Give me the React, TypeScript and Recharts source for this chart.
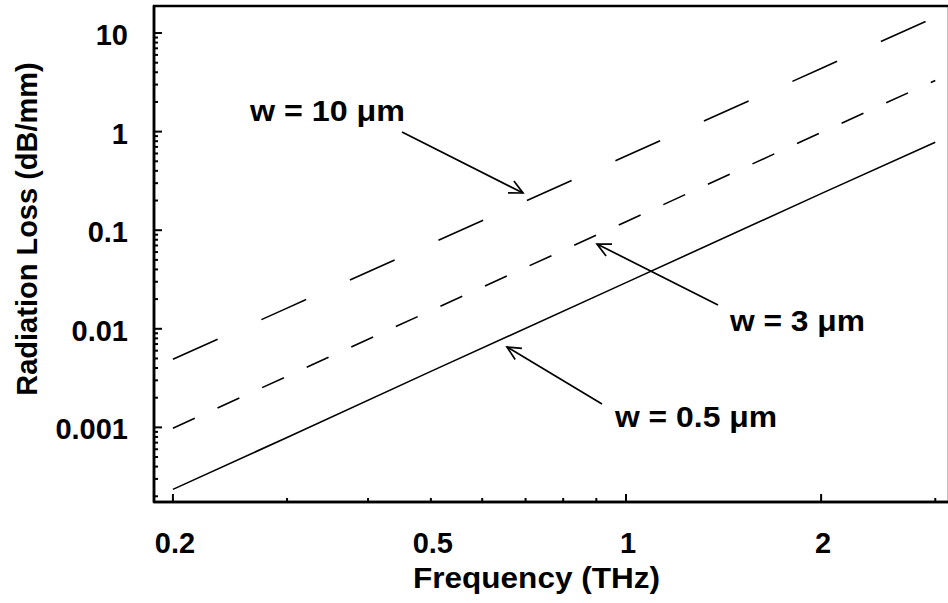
import React from 'react';
import { LineChart, Line, XAxis, YAxis } from 'recharts';

// frequency (THz) and radiation loss (dB/mm)
const freqs = [0.2, 0.3, 0.5, 1, 2, 3];
const lossW05 = [2.35e-4, 7.9e-4, 3.7e-3, 0.0294, 0.235, 0.78];
const lossW3 = [9.8e-4, 3.3e-3, 0.0153, 0.122, 0.98, 3.3];
const lossW10 = [4.9e-3, 0.0162, 0.073, 0.565, 4.37, 14.5];

const xTicks = [0.2, 0.3, 0.4, 0.5, 0.6, 0.7, 0.8, 0.9, 1, 2, 3];
const xMajor = [0.2, 1, 2];
const xLabelVals = [0.2, 0.5, 1, 2];
const xLabelText = ['0.2', '0.5', '1', '2'];

const yDecades = [1e-4, 1e-3, 0.01, 0.1, 1, 10];
const yMults = [1, 2, 3, 4, 5, 6, 7, 8, 9];
const yLabelVals = [1e-3, 0.01, 0.1, 1, 10];
const yLabelText = ['0.001', '0.01', '0.1', '1', '10'];

const X_DOMAIN = [0.187, 3.15];
const Y_DOMAIN = [1.75e-4, 18.8];

const yTicks = yDecades
  .flatMap(d => yMults.map(m => d * m))
  .filter(v => v >= Y_DOMAIN[0] && v <= Y_DOMAIN[1]);

const data = freqs.map((f, i) => ({
  f,
  w05: lossW05[i],
  w3: lossW3[i],
  w10: lossW10[i],
}));

const annotations = [
  { text: 'w = 10 \u03bcm', tx: 250, ty: 121, len: 155, from: [402, 132], to: [523, 193] },
  { text: 'w = 3 \u03bcm', tx: 730, ty: 331, len: 135, from: [718, 305], to: [597, 244] },
  { text: 'w = 0.5 \u03bcm', tx: 615, ty: 427, len: 162, from: [602, 404], to: [507, 347] },
];

const FONT = '"Liberation Sans", Arial, Helvetica, sans-serif';
const FS = 29;
const TICK_W = 2;

// plot frame in page pixels (left, top, right, bottom)
const FRAME = { l: 154, t: 6, r: 949, b: 502 };

const same = (a: number, b: number) => Math.abs(Math.log10(a / b)) < 1e-6;
const labelFor = (v: number, vals: number[], text: string[]) => {
  const i = vals.findIndex(b => same(v, b));
  return i >= 0 ? text[i] : null;
};
const isMajorY = (v: number) => yDecades.some(d => same(v, d));

const BottomTick = (props: any) => {
  const { x, y, payload } = props;
  const v = payload.value;
  const len = xMajor.some(m => same(v, m)) ? 8 : 4;
  const label = labelFor(v, xLabelVals, xLabelText);
  return (
    <g>
      <line x1={x} x2={x} y1={y} y2={y - len} stroke="#000" strokeWidth={TICK_W} />
      {label && (
        <text x={x + 2} y={y + 51} textAnchor="middle" fontFamily={FONT} fontWeight="bold" fontSize={FS} fill="#000">
          {label}
        </text>
      )}
    </g>
  );
};

const TopTick = (props: any) => {
  const { x, y, payload } = props;
  const len = xMajor.some(m => same(payload.value, m)) ? 8 : 4;
  return <line x1={x} x2={x} y1={y} y2={y + len} stroke="#000" strokeWidth={TICK_W} />;
};

const LeftTick = (props: any) => {
  const { x, y, payload } = props;
  const v = payload.value;
  const len = isMajorY(v) ? 8 : 4;
  const label = labelFor(v, yLabelVals, yLabelText);
  return (
    <g>
      <line x1={x} x2={x + len} y1={y} y2={y} stroke="#000" strokeWidth={TICK_W} />
      {label && (
        <text x={x - 26} y={y + 12} textAnchor="end" fontFamily={FONT} fontWeight="bold" fontSize={FS} fill="#000">
          {label}
        </text>
      )}
    </g>
  );
};

const RightTick = (props: any) => {
  const { x, y, payload } = props;
  const len = isMajorY(payload.value) ? 8 : 4;
  return <line x1={x} x2={x - len} y1={y} y2={y} stroke="#000" strokeWidth={TICK_W} />;
};

const Arrow = ({ from, to }: { from: number[]; to: number[] }) => {
  const dx = from[0] - to[0];
  const dy = from[1] - to[1];
  const d = Math.hypot(dx, dy);
  const ux = dx / d;
  const uy = dy / d;
  const L = 15;
  const a = (26 * Math.PI) / 180;
  const barb = (s: number) => [
    to[0] + L * (ux * Math.cos(s * a) - uy * Math.sin(s * a)),
    to[1] + L * (ux * Math.sin(s * a) + uy * Math.cos(s * a)),
  ];
  const b1 = barb(1);
  const b2 = barb(-1);
  return (
    <g stroke="#000" strokeWidth={1.7} fill="none">
      <line x1={from[0]} y1={from[1]} x2={to[0]} y2={to[1]} />
      <polyline points={`${b1[0]},${b1[1]} ${to[0]},${to[1]} ${b2[0]},${b2[1]}`} />
    </g>
  );
};

const axisLine = { stroke: '#000', strokeWidth: 2.5 };

export default function App() {
  return (
    <div style={{ position: 'fixed', left: 0, top: 0, width: 948, height: 603, overflow: 'hidden', background: '#fff' }}>
      <LineChart width={949} height={603} data={data} margin={{ top: 6, right: 0, bottom: 0, left: 0 }}>
        <XAxis
          dataKey="f"
          type="number"
          scale="log"
          domain={X_DOMAIN}
          allowDataOverflow
          ticks={xTicks}
          interval={0}
          height={101}
          tickSize={0}
          tickMargin={0}
          tickLine={false}
          axisLine={axisLine}
          tick={BottomTick}
        />
        <XAxis
          xAxisId="top"
          dataKey="f"
          orientation="top"
          type="number"
          scale="log"
          domain={X_DOMAIN}
          allowDataOverflow
          ticks={xTicks}
          interval={0}
          height={0}
          tickSize={0}
          tickMargin={0}
          tickLine={false}
          axisLine={axisLine}
          tick={TopTick}
        />
        <YAxis
          type="number"
          scale="log"
          domain={Y_DOMAIN}
          allowDataOverflow
          ticks={yTicks}
          interval={0}
          width={154}
          tickSize={0}
          tickMargin={0}
          tickLine={false}
          axisLine={axisLine}
          tick={LeftTick}
        />
        <YAxis
          yAxisId="right"
          orientation="right"
          type="number"
          scale="log"
          domain={Y_DOMAIN}
          allowDataOverflow
          ticks={yTicks}
          interval={0}
          width={0}
          tickSize={0}
          tickMargin={0}
          tickLine={false}
          axisLine={axisLine}
          tick={RightTick}
        />
        <Line dataKey="w05" stroke="#000" strokeWidth={1.6} dot={false} isAnimationActive={false} />
        <Line dataKey="w3" stroke="#000" strokeWidth={1.6} strokeDasharray="24 25" dot={false} isAnimationActive={false} />
        <Line dataKey="w10" stroke="#000" strokeWidth={1.6} strokeDasharray="49 48" dot={false} isAnimationActive={false} />
      </LineChart>
      <svg width={948} height={603} style={{ position: 'absolute', left: 0, top: 0, pointerEvents: 'none' }}>
        <rect
          x={FRAME.l}
          y={FRAME.t}
          width={FRAME.r - FRAME.l}
          height={FRAME.b - FRAME.t}
          fill="none"
          stroke="#000"
          strokeWidth={2.5}
        />
        {annotations.map(a => (
          <g key={a.text}>
            <text
              x={a.tx}
              y={a.ty}
              textLength={a.len}
              lengthAdjust="spacingAndGlyphs"
              fontFamily={FONT}
              fontWeight="bold"
              fontSize={FS}
              fill="#000"
            >
              {a.text}
            </text>
            <Arrow from={a.from} to={a.to} />
          </g>
        ))}
        <text
          x={413}
          y={588}
          textLength={247}
          lengthAdjust="spacingAndGlyphs"
          fontFamily={FONT}
          fontWeight="bold"
          fontSize={FS}
          fill="#000"
        >
          Frequency (THz)
        </text>
        <text
          transform="translate(37,229) rotate(-90)"
          textAnchor="middle"
          fontFamily={FONT}
          fontWeight="bold"
          fontSize={FS}
          fill="#000"
        >
          Radiation Loss (dB/mm)
        </text>
      </svg>
    </div>
  );
}
